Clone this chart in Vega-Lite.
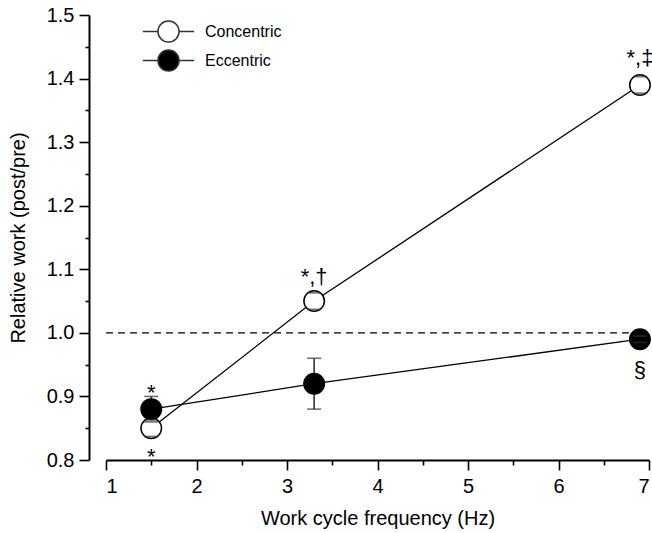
{
  "$schema": "https://vega.github.io/schema/vega-lite/v6.json",
  "width": 543,
  "height": 445,
  "autosize": {"type": "none"},
  "padding": {"left": 106, "top": 15, "right": 3, "bottom": 73},
  "background": "white",
  "config": {
    "view": {"stroke": null},
    "font": "Liberation Sans",
    "axis": {
      "labelFont": "Liberation Sans",
      "titleFont": "Liberation Sans",
      "labelFontSize": 20,
      "titleFontSize": 20,
      "titleFontWeight": "normal",
      "labelColor": "black",
      "titleColor": "black",
      "domainColor": "black",
      "tickColor": "black",
      "domainWidth": 2,
      "tickWidth": 1.6,
      "grid": false
    },
    "legend": {
      "labelFont": "Liberation Sans",
      "labelFontSize": 16,
      "labelColor": "black",
      "padding": 0,
      "rowPadding": 0
    }
  },
  "datasets": {
    "pts": [
      {"series": "Concentric", "x": 1.5, "y": 0.85, "lo": 0.837, "hi": 0.863},
      {"series": "Concentric", "x": 3.3, "y": 1.05, "lo": 1.037, "hi": 1.063},
      {"series": "Concentric", "x": 6.9, "y": 1.39, "lo": 1.377, "hi": 1.403},
      {"series": "Eccentric", "x": 1.5, "y": 0.88, "lo": 0.86, "hi": 0.9},
      {"series": "Eccentric", "x": 3.3, "y": 0.92, "lo": 0.88, "hi": 0.96},
      {"series": "Eccentric", "x": 6.9, "y": 0.99, "lo": 0.985, "hi": 0.995}
    ],
    "ann": [
      {"x": 1.5, "y": 0.894, "t": "*"},
      {"x": 1.5, "y": 0.794, "t": "*"},
      {"x": 3.3, "y": 1.077, "t": "*,†"},
      {"x": 6.9, "y": 1.421, "t": "*,‡"},
      {"x": 6.9, "y": 0.93, "t": "§"}
    ],
    "ref": [{"x": 1, "x2": 6.9, "y": 1}]
  },
  "layer": [
    {
      "data": {"name": "ref"},
      "mark": {"type": "rule", "color": "black", "strokeWidth": 1.4, "strokeDash": [7, 5]},
      "encoding": {
        "x": {
          "field": "x", "type": "quantitative",
          "scale": {"domain": [1, 7], "nice": false, "zero": false},
          "axis": {
            "values": [1, 2, 3, 4, 5, 6, 7],
            "tickSize": 10,
            "labelPadding": 6,
            "title": "Work cycle frequency (Hz)",
            "titlePadding": 12,
            "orient": "bottom"
          }
        },
        "x2": {"field": "x2"},
        "y": {
          "field": "y", "type": "quantitative",
          "scale": {"domain": [0.8, 1.5], "nice": false, "zero": false},
          "axis": {
            "values": [0.8, 0.9, 1.0, 1.1, 1.2, 1.3, 1.4, 1.5],
            "format": ".1f",
            "tickSize": 10,
            "labelPadding": 5,
            "offset": 17,
            "title": "Relative work (post/pre)",
            "titlePadding": 18,
            "orient": "left"
          }
        }
      }
    },
    {
      "data": {"name": "pts"},
      "mark": {"type": "line", "color": "black", "strokeWidth": 1.3},
      "encoding": {
        "x": {"field": "x", "type": "quantitative", "axis": null},
        "y": {"field": "y", "type": "quantitative", "axis": null},
        "detail": {"field": "series"}
      }
    },
    {
      "data": {"name": "pts"},
      "mark": {"type": "rule", "color": "#333", "strokeWidth": 1.6},
      "encoding": {
        "x": {"field": "x", "type": "quantitative", "axis": null},
        "y": {"field": "lo", "type": "quantitative", "axis": null},
        "y2": {"field": "hi"}
      }
    },
    {
      "data": {"name": "pts"},
      "mark": {"type": "point", "filled": true, "size": 420, "stroke": "black", "strokeWidth": 1.5, "opacity": 1},
      "encoding": {
        "x": {"field": "x", "type": "quantitative", "axis": null},
        "y": {"field": "y", "type": "quantitative", "axis": null},
        "fill": {
          "field": "series", "type": "nominal",
          "scale": {"domain": ["Concentric", "Eccentric"], "range": ["white", "black"]},
          "legend": {
            "title": null,
            "orient": "none",
            "legendX": 48,
            "legendY": 2,
            "symbolType": "M-1.9,0L-0.78,0M0.78,0L1.9,0M-0.78,0A0.78,0.78,0,1,1,0.78,0A0.78,0.78,0,1,1,-0.78,0Z",
            "symbolSize": 729,
            "symbolStrokeColor": "#333",
            "symbolStrokeWidth": 1.5,
            "labelOffset": 22,
            "labelFontSize": 16
          }
        }
      }
    },
    {
      "data": {"name": "pts"},
      "mark": {"type": "tick", "orient": "horizontal", "size": 14, "thickness": 1.6, "color": "#333"},
      "encoding": {
        "x": {"field": "x", "type": "quantitative", "axis": null},
        "y": {"field": "lo", "type": "quantitative", "axis": null}
      }
    },
    {
      "data": {"name": "pts"},
      "mark": {"type": "tick", "orient": "horizontal", "size": 14, "thickness": 1.6, "color": "#333"},
      "encoding": {
        "x": {"field": "x", "type": "quantitative", "axis": null},
        "y": {"field": "hi", "type": "quantitative", "axis": null}
      }
    },
    {
      "data": {"name": "ann"},
      "mark": {"type": "text", "font": "Liberation Sans", "fontSize": 22, "align": "center", "baseline": "alphabetic", "color": "black"},
      "encoding": {
        "x": {"field": "x", "type": "quantitative", "axis": null},
        "y": {"field": "y", "type": "quantitative", "axis": null},
        "text": {"field": "t"}
      }
    },
    {
      "data": {"name": "ref"},
      "mark": {"type": "point", "opacity": 0},
      "encoding": {
        "x": {
          "field": "x", "type": "quantitative",
          "axis": {
            "values": [1.5, 2.5, 3.5, 4.5, 5.5, 6.5],
            "tickSize": 5,
            "labels": false,
            "domain": false,
            "title": null,
            "orient": "bottom"
          }
        },
        "y": {
          "field": "y", "type": "quantitative",
          "axis": {
            "values": [0.85, 0.95, 1.05, 1.15, 1.25, 1.35, 1.45],
            "tickSize": 4,
            "labels": false,
            "domain": false,
            "title": null,
            "offset": 17,
            "orient": "left"
          }
        }
      }
    }
  ],
  "resolve": {"axis": {"x": "independent", "y": "independent"}}
}
